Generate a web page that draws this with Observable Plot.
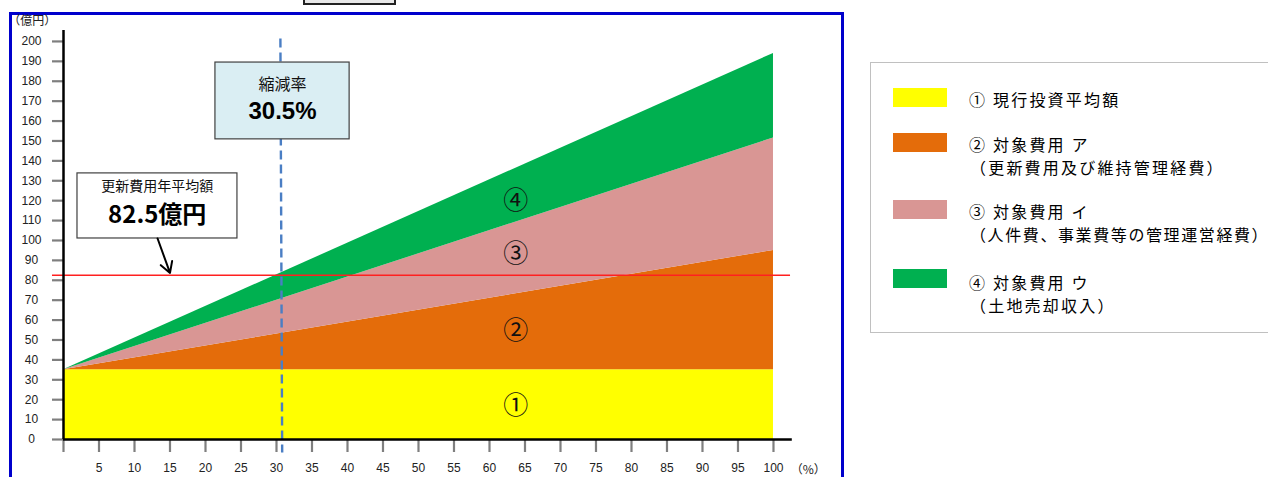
<!DOCTYPE html>
<html><head><meta charset="utf-8">
<script src="https://cdn.jsdelivr.net/npm/d3@7"></script>
<script src="https://cdn.jsdelivr.net/npm/@observablehq/plot@0.6"></script>
<style>
body{margin:0;background:#fff;font-family:"Liberation Sans","Noto Sans CJK JP",sans-serif;}
#wrap{position:relative;width:1268px;height:477px;overflow:hidden;}
#frame{position:absolute;left:9px;top:12px;width:829px;height:480px;border:3px solid #0000cc;}
#topbox{position:absolute;left:303px;top:-20px;width:89px;height:21px;border:2px solid #222;background:#e8e8e8;}
#chart{position:absolute;left:0;top:0;}
#legend{position:absolute;left:870px;top:62px;width:420px;height:269px;border:1.5px solid #c0c0c0;}
.sw{position:absolute;left:893px;width:54px;height:19px;}
.lt{position:absolute;left:969px;font-family:"Noto Sans CJK JP",sans-serif;font-size:16px;letter-spacing:2.2px;color:#000;line-height:1;white-space:nowrap;}
</style></head>
<body><div id="wrap"><div id="frame"></div><div id="topbox"></div><div id="chart"></div><div id="legend"></div></div>
<script>
// ---- data ----
const pct = [0, 100];                       // x (%)
const layerNames = ["①", "②", "③", "④"];
const top1 = [35, 35];                      // ① 現行投資平均額
const top2 = [35, 95];                      // ② 対象費用 ア (cumulative top)
const top3 = [35, 151.5];                   // ③ 対象費用 イ (cumulative top)
const top4 = [35, 194];                     // ④ 対象費用 ウ (cumulative top)
const layerColors = ["#ffff00", "#e46c0a", "#d99694", "#00b050"];
const yTicks = [0,10,20,30,40,50,60,70,80,90,100,110,120,130,140,150,160,170,180,190,200];
const xTicks = [0,5,10,15,20,25,30,35,40,45,50,55,60,65,70,75,80,85,90,95,100];
const avgCost = [82.5];
const reductionRate = [30.5];
const legendMain = ["①  現行投資平均額", "②  対象費用  ア", "③  対象費用  イ", "④  対象費用  ウ"];
const legendSub = ["", "（更新費用及び維持管理経費）", "（人件費、事業費等の管理運営経費）", "（土地売却収入）"];
// label positions (data units)
const circX = [63.7, 63.7, 63.7, 63.7];
const circY = [16.6, 54.3, 93, 119.6];

const tops = [top1, top2, top3, top4];
const rows = [];
layerNames.forEach((name, i) => pct.forEach((p, j) => rows.push({layer: name, pct: p, lo: i === 0 ? 0 : tops[i-1][j], hi: tops[i][j]})));

const jp = "Noto Sans CJK JP";
const num = "Liberation Sans";

const chart = Plot.plot({
  width: 1268, height: 477,
  marginLeft: 63, marginRight: 476.2, marginTop: 30, marginBottom: 38,
  style: {background: "transparent", overflow: "visible"},
  x: {domain: [0, 102.65]},
  y: {domain: [0, 205.5]},
  color: {domain: layerNames, range: layerColors},
  marks: [
    Plot.areaY(rows, {x: "pct", y1: "lo", y2: "hi", fill: "layer", z: "layer"}),
    Plot.text(layerNames, {x: (d, i) => circX[i], y: (d, i) => circY[i], text: d => d, fontSize: 25, fontFamily: jp, fill: "#111"}),
    Plot.ruleY(avgCost, {x1: -1.55, x2: 102.4, stroke: "#ff2020", strokeWidth: 1.5}),
    Plot.link(reductionRate, {x1: d => d + 0.05, x2: d => d + 0.3, y1: 201.5, y2: -6.5, stroke: "#4a7ec4", strokeWidth: 2.4, strokeDasharray: "9,5"}),
    // annotation: 縮減率
    Plot.rect(reductionRate, {x1: 21.4, x2: 40.3, y1: 150.8, y2: 189.4, fill: "#daeef3", stroke: "#404040", strokeWidth: 1.2}),
    Plot.text(["縮減率"], {x: 30.85, y: 178, fontSize: 16, fontFamily: jp, fill: "#111"}),
    Plot.text(reductionRate, {x: 30.85, y: 165, text: d => d + "%", fontSize: 24, fontWeight: "bold", fontFamily: num, fill: "#000"}),
    // annotation: 更新費用年平均額
    Plot.rect(avgCost, {x1: 1.97, x2: 24.5, y1: 101, y2: 133.7, fill: "#fff", stroke: "#404040", strokeWidth: 1.2}),
    Plot.text(["更新費用年平均額"], {x: 13.2, y: 127.3, fontSize: 14, fontFamily: jp, fill: "#111"}),
    Plot.text(avgCost, {x: 13.2, y: 112.8, text: d => d + "億円", fontSize: 24, fontWeight: "bold", fontFamily: jp, fill: "#000"}),
    Plot.arrow(avgCost, {x1: 13.25, y1: 101, x2: 15.0, y2: d => d + 1.2, stroke: "#000", strokeWidth: 2, headLength: 9}),
    // axes
    Plot.axisY({ticks: yTicks, tickSize: 11, tickPadding: 21, textAnchor: "middle", stroke: "#7f7f7f", strokeWidth: 2.2, fontSize: 12, fontFamily: num, fill: "#222", label: null}),
    Plot.axisX({ticks: xTicks, tickSize: 13, tickPadding: 11, tickFormat: d => d === 0 ? "" : d, stroke: "#7f7f7f", strokeWidth: 2.2, fontSize: 12, fontFamily: num, fill: "#222", label: null}),
    Plot.ruleX([0], {y1: 0, y2: 205.5, stroke: "#000", strokeWidth: 2.5}),
    Plot.ruleY([0], {x1: 0, x2: 102.65, stroke: "#000", strokeWidth: 2.5}),
    Plot.text(["（%）"], {x: 104.9, y: -15.2, fontSize: 12, fontFamily: jp, fill: "#222"}),
    Plot.text(["（億円）"], {x: -4.4, y: 210.3, fontSize: 12, fontFamily: jp, fill: "#222"})
  ]
});
document.getElementById("chart").appendChild(chart);

// legend
const wrap = document.getElementById("wrap");
const swTop = [88, 133, 200, 269];
const mainY = [100, 145, 212, 283];
const subY = [0, 168, 235, 306];
layerNames.forEach((n, i) => {
  const s = document.createElement("div");
  s.className = "sw"; s.style.top = swTop[i] + "px"; s.style.background = layerColors[i];
  wrap.appendChild(s);
  const t = document.createElement("div");
  t.className = "lt"; t.textContent = legendMain[i]; t.style.top = (mainY[i] - 9) + "px";
  wrap.appendChild(t);
  if (legendSub[i]) {
    const u = document.createElement("div");
    u.className = "lt"; u.textContent = legendSub[i]; u.style.top = (subY[i] - 9) + "px";
    u.style.left = "970px";
    if (i === 2) u.style.letterSpacing = "1.6px";
    wrap.appendChild(u);
  }
});
</script></body></html>
